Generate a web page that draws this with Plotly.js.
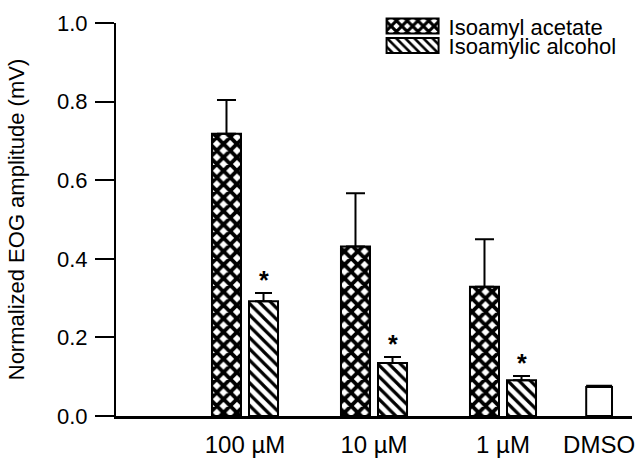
<!DOCTYPE html>
<html>
<head>
<meta charset="utf-8">
<script src="https://cdn.plot.ly/plotly-3.0.1.min.js"></script>
<style>html,body{margin:0;padding:0;background:#fff;}#chart{width:637px;height:459px;}</style>
</head>
<body>
<div id="chart"></div>
<script>
// ---- data ----
var categories = ["100 µM", "10 µM", "1 µM"];
var acetateValues = [0.718, 0.431, 0.329];
var acetateErrors = [0.086, 0.136, 0.121];
var alcoholValues = [0.292, 0.135, 0.091];
var alcoholErrors = [0.021, 0.015, 0.011];
var alcoholSignificant = [true, true, true];
var controlLabel = "DMSO";
var controlValue = [0.074];
var controlError = [0.003];
var seriesNames = ["Isoamyl acetate", "Isoamylic alcohol"];

// ---- layout constants ----
var FONT = "Liberation Sans, Arial, Helvetica, sans-serif";
var groupPos = categories.map(function (c, i) { return i + 1; });
var controlPos = 3.745;
var BAR_W = 0.225;
var ACET_OFF = -0.256;
var ALC_OFF = 0.031;

var data = [
  {
    type: "bar", name: seriesNames[0], x: groupPos, y: acetateValues,
    width: BAR_W, offset: ACET_OFF,
    marker: {color: "#ffffff", line: {color: "#000", width: 2},
      pattern: {shape: "x", fgcolor: "#000", bgcolor: "#fff", size: 9.5, solidity: 0.65}},
    error_y: {type: "data", symmetric: false, array: acetateErrors,
      arrayminus: acetateErrors.map(function () { return 0; }),
      color: "#000", thickness: 2, width: 9.5}
  },
  {
    type: "bar", name: seriesNames[1], x: groupPos, y: alcoholValues,
    width: BAR_W, offset: ALC_OFF,
    marker: {color: "#ffffff", line: {color: "#000", width: 2},
      pattern: {shape: "\\", fgcolor: "#000", bgcolor: "#fff", size: 8, solidity: 0.4}},
    error_y: {type: "data", symmetric: false, array: alcoholErrors,
      arrayminus: alcoholErrors.map(function () { return 0; }),
      color: "#000", thickness: 2, width: 8.5}
  },
  {
    type: "bar", name: controlLabel, x: [controlPos], y: controlValue,
    width: 0.2, showlegend: false,
    marker: {color: "#ffffff", line: {color: "#000", width: 2}},
    error_y: {type: "data", symmetric: false, array: controlError, arrayminus: [0],
      color: "#000", thickness: 2, width: 13}
  }
];

var annotations = [];
alcoholSignificant.forEach(function (s, i) {
  if (!s) return;
  annotations.push({
    x: groupPos[i] + ALC_OFF + BAR_W / 2, y: alcoholValues[i] + alcoholErrors[i],
    xref: "x", yref: "y", text: "<b>*</b>", showarrow: false,
    yanchor: "middle", yshift: 13,
    font: {family: FONT, size: 25, color: "#000"}
  });
});

var layout = {
  width: 637, height: 459,
  margin: {l: 116, r: 5, t: 21, b: 43},
  paper_bgcolor: "#fff", plot_bgcolor: "#fff",
  font: {family: FONT, size: 22, color: "#000"},
  barmode: "overlay",
  showlegend: true,
  legend: {x: 0.505, xanchor: "left", y: 1.045, yanchor: "top",
    bgcolor: "rgba(0,0,0,0)", itemwidth: 62,
    font: {family: FONT, size: 22, color: "#000"}},
  xaxis: {
    range: [0, 4], showgrid: false, zeroline: false,
    showline: true, linecolor: "#000", linewidth: 2.5,
    ticks: "", tickvals: groupPos.concat([controlPos]),
    ticktext: categories.concat([controlLabel]),
    tickfont: {family: FONT, size: 24, color: "#000"},
    ticklabelstandoff: 6, fixedrange: true
  },
  yaxis: {
    range: [0, 1], showgrid: false, zeroline: false,
    showline: true, linecolor: "#000", linewidth: 2,
    ticks: "outside", ticklen: 19, tickwidth: 2, tickcolor: "#000",
    tickvals: [0, 0.2, 0.4, 0.6, 0.8, 1.0], tickformat: ".1f",
    tickfont: {family: FONT, size: 22, color: "#000"},
    ticklabelstandoff: 3,
    title: {text: "Normalized EOG amplitude (mV)", standoff: 26,
      font: {family: FONT, size: 22, color: "#000"}},
    fixedrange: true
  },
  annotations: annotations
};

var gd = document.getElementById("chart");
Plotly.newPlot(gd, data, layout, {displayModeBar: false, staticPlot: true}).then(function () {
  var items = gd.querySelectorAll(".legend .traces");
  var ROW = 19.5;
  var re = /translate\(\s*([-\d.]+)[ ,]+([-\d.]+)\s*\)/;
  var m0 = items.length ? re.exec(items[0].getAttribute("transform") || "") : null;
  var base = m0 ? parseFloat(m0[2]) : 0;
  items.forEach(function (g, i) {
    var p = g.querySelector(".legendpoints path");
    if (p) p.setAttribute("d", "M26,7.5H-26V-7.5H26Z");
    var m = re.exec(g.getAttribute("transform") || "");
    if (m) g.setAttribute("transform", "translate(" + parseFloat(m[1]) + "," + (base + i * ROW) + ")");
  });
});
</script>
</body>
</html>
